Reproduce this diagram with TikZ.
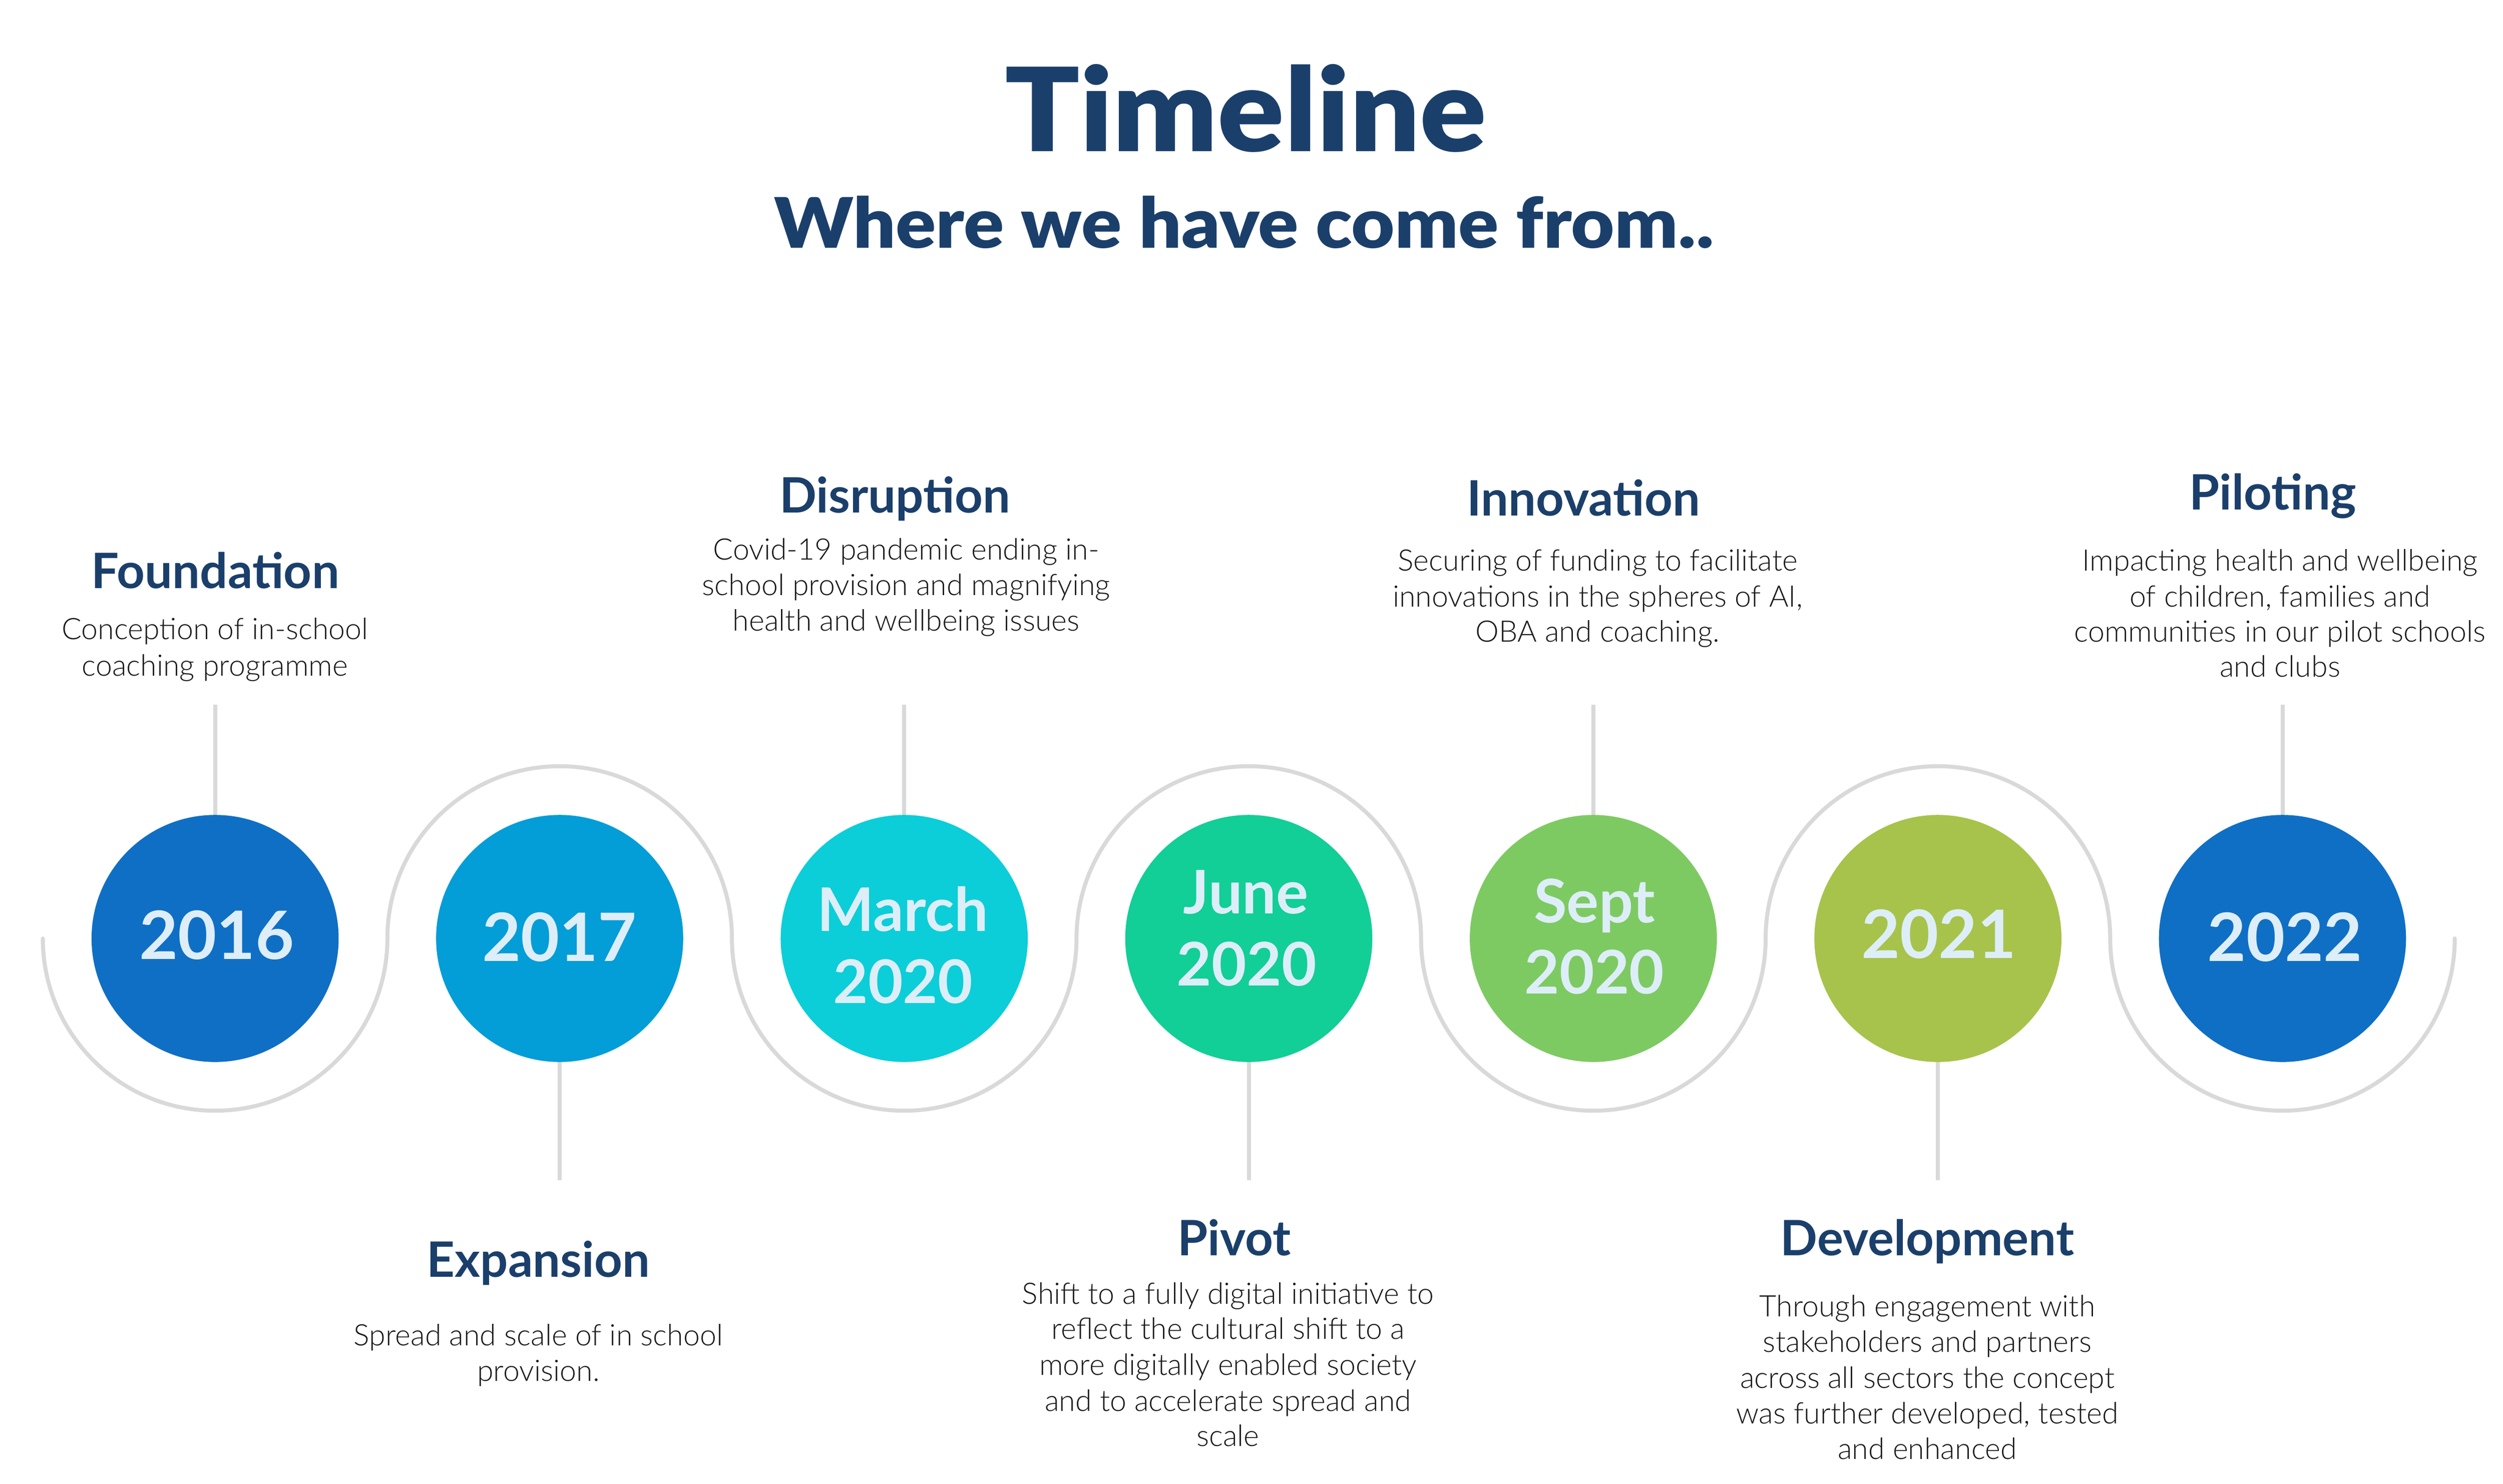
\documentclass[tikz,border=0pt]{standalone}
\usepackage{graphicx}
\usepackage{fontspec}
\setmainfont{Lato}
\newfontfamily\lightfont{Lato Light}
\newfontfamily\blackfont{Lato Black}
\definecolor{titleblue}{HTML}{1B3F6B}
\definecolor{bodytext}{HTML}{1A1A1A}
\definecolor{yeartext}{HTML}{DDEEF8}
\definecolor{arcgray}{HTML}{D9D9D9}
\definecolor{cA}{HTML}{0F6FC5}
\definecolor{cB}{HTML}{039DD7}
\definecolor{cC}{HTML}{0BCED8}
\definecolor{cD}{HTML}{12CE97}
\definecolor{cE}{HTML}{7ECA62}
\definecolor{cF}{HTML}{A7C34B}
\definecolor{cG}{HTML}{0F6FC5}
\tikzset{
  yearcircle/.style={circle, minimum size=154.4pt, inner sep=0pt, draw=none},
  head/.style={anchor=base, inner sep=0pt, text=titleblue, font=\bfseries\fontsize{30.5}{36}\selectfont},
  body/.style={anchor=base, inner sep=0pt, text=bodytext, font=\lightfont\fontsize{18.5}{22.3}\selectfont},
  yearbig/.style={anchor=base, inner sep=0pt, text=yeartext, font=\bfseries\fontsize{41.7}{48}\selectfont},
  yearsmall/.style={anchor=base, inner sep=0pt, text=yeartext, font=\bfseries\fontsize{37.6}{44}\selectfont},
  stem/.style={draw=arcgray, line width=2.5pt},
  wave/.style={draw=arcgray, line width=2.5pt, line cap=round},
}
\begin{document}
\begin{tikzpicture}[x=1pt,y=-1pt]
\useasboundingbox[fill=white] (0,0) rectangle (1564,927.4);

% title
\node[anchor=base, inner sep=0pt, text=titleblue, font=\blackfont\fontsize{72.5}{80}\selectfont] (title) at (778.5,94.7) {\scalebox{1.065}[1]{Timeline}};
\node[anchor=base, inner sep=0pt, text=titleblue, font=\blackfont\fontsize{43.5}{50}\selectfont] (subtitle) at (777.3,155) {\scalebox{1.073}[1]{Where we have come from..}};

% wave
\draw[wave] (26.75,586.5)
  arc[start angle=180, end angle=0, radius=107.65]
  arc[start angle=180, end angle=360, radius=107.65]
  arc[start angle=180, end angle=0, radius=107.65]
  arc[start angle=180, end angle=360, radius=107.65]
  arc[start angle=180, end angle=0, radius=107.65]
  arc[start angle=180, end angle=360, radius=107.65]
  arc[start angle=180, end angle=0, radius=107.65];

% stem end points
\coordinate (s0) at (134.4,440.5);
\coordinate (s1) at (349.7,737.5);
\coordinate (s2) at (565.0,440.5);
\coordinate (s3) at (780.3,737.5);
\coordinate (s4) at (995.6,440.5);
\coordinate (s5) at (1210.9,737.5);
\coordinate (s6) at (1426.2,440.5);

% circles
\node[yearcircle, fill=cA] (c0) at (134.4,586.5) {};
\node[yearcircle, fill=cB] (c1) at (349.7,586.5) {};
\node[yearcircle, fill=cC] (c2) at (565.0,586.5) {};
\node[yearcircle, fill=cD] (c3) at (780.3,586.5) {};
\node[yearcircle, fill=cE] (c4) at (995.6,586.5) {};
\node[yearcircle, fill=cF] (c5) at (1210.9,586.5) {};
\node[yearcircle, fill=cG] (c6) at (1426.2,586.5) {};

% stems
\draw[stem] (s0) -- (c0.north);
\draw[stem] (c1.south) -- (s1);
\draw[stem] (s2) -- (c2.north);
\draw[stem] (c3.south) -- (s3);
\draw[stem] (s4) -- (c4.north);
\draw[stem] (c5.south) -- (s5);
\draw[stem] (s6) -- (c6.north);

% years
\node[yearbig] (y0) at (135.4,599.4) {2016};
\node[yearbig] (y1) at (349.6,600.8) {2017};
\node[yearsmall] (y2a) at (564.0,582) {March};
\node[yearsmall] (y2b) at (564.2,627) {2020};
\node[yearsmall] (y3a) at (778.5,571) {June};
\node[yearsmall] (y3b) at (779.0,616) {2020};
\node[yearsmall] (y4a) at (996.3,576.6) {Sept};
\node[yearsmall] (y4b) at (996.3,621.2) {2020};
\node[yearbig] (y5) at (1211.4,598.9) {2021};
\node[yearbig] (y6) at (1427.8,600.8) {2022};

% headings
\node[head] (h0) at (134.6,367.7) {Foundation};
\node[head] (h1) at (336.4,798) {Expansion};
\node[head] (h2) at (559.2,320.4) {Disruption};
\node[head] (h3) at (771.2,784.6) {Pivot};
\node[head] (h4) at (989.5,322.3) {Innovation};
\node[head] (h5) at (1204.3,784.6) {Development};
\node[head] (h6) at (1420.2,318.7) {Piloting};

% bodies
\node[body] (b0a) at (134.3,399.7) {Conception of in-school};
\node[body] (b0b) at (134.3,422.3) {coaching programme};

\node[body] (b1a) at (336.4,841) {Spread and scale of in school};
\node[body] (b1b) at (336.4,863.2) {provision.};

\node[body] (b2a) at (566.2,349.9) {Covid-19 pandemic ending in-};
\node[body] (b2b) at (566.2,372.2) {school provision and magnifying};
\node[body] (b2c) at (566.2,394.4) {health and wellbeing issues};

\node[body] (b3a) at (767.3,815) {Shift to a fully digital initiative to};
\node[body] (b3b) at (767.3,837) {reflect the cultural shift to a};
\node[body] (b3c) at (767.3,859.3) {more digitally enabled society};
\node[body] (b3d) at (767.3,881.8) {and to accelerate spread and};
\node[body] (b3e) at (767.3,903.9) {scale};

\node[body] (b4a) at (998.3,356.8) {Securing of funding to facilitate};
\node[body] (b4b) at (998.3,379.2) {innovations in the spheres of AI,};
\node[body] (b4c) at (998.3,401.3) {OBA and coaching.};

\node[body] (b5a) at (1204.3,822.9) {Through engagement with};
\node[body] (b5b) at (1204.3,845) {stakeholders and partners};
\node[body] (b5c) at (1204.3,867.6) {across all sectors the concept};
\node[body] (b5d) at (1204.3,889.7) {was further developed, tested};
\node[body] (b5e) at (1204.3,911.8) {and enhanced};

\node[body] (b6a) at (1424.7,356.8) {Impacting health and wellbeing};
\node[body] (b6b) at (1424.7,379.2) {of children, families and};
\node[body] (b6c) at (1424.7,401.3) {communities in our pilot schools};
\node[body] (b6d) at (1424.7,423.2) {and clubs};
\end{tikzpicture}
\end{document}
